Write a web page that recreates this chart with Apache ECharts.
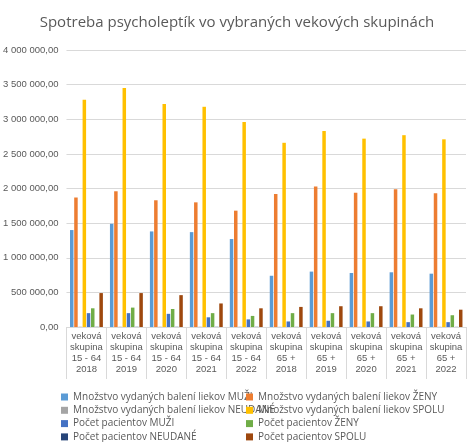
<!DOCTYPE html><html><head><meta charset="utf-8"><script src="https://cdn.jsdelivr.net/npm/echarts@6/dist/echarts.min.js"></script>
<style>html,body{margin:0;background:#fff}#c{width:474px;height:442px}</style></head><body><div id="c"></div><script>
const categories=['veková\nskupina\n15 - 64\n2018','veková\nskupina\n15 - 64\n2019','veková\nskupina\n15 - 64\n2020','veková\nskupina\n15 - 64\n2021','veková\nskupina\n15 - 64\n2022','veková\nskupina\n65 +\n2018','veková\nskupina\n65 +\n2019','veková\nskupina\n65 +\n2020','veková\nskupina\n65 +\n2021','veková\nskupina\n65 +\n2022'];
const names=['Množstvo vydaných balení liekov MUŽI','Množstvo vydaných balení liekov ŽENY','Množstvo vydaných balení liekov NEUDANÉ','Množstvo vydaných balení liekov SPOLU','Počet pacientov MUŽI','Počet pacientov ŽENY','Počet pacientov NEUDANÉ','Počet pacientov SPOLU'];
const balMuzi=[1400000,1490000,1380000,1370000,1270000,740000,800000,780000,790000,770000];
const balZeny=[1870000,1960000,1830000,1800000,1680000,1920000,2030000,1940000,1990000,1930000];
const balNeud=[4000,4000,4000,4000,4000,3000,3000,3000,3000,3000];
const balSpolu=[3280000,3450000,3220000,3180000,2960000,2660000,2830000,2720000,2770000,2710000];
const pacMuzi=[200000,200000,190000,140000,110000,80000,90000,80000,70000,70000];
const pacZeny=[270000,280000,260000,200000,160000,200000,200000,200000,180000,170000];
const pacNeud=[3000,3000,3000,3000,3000,2000,2000,2000,2000,2000];
const pacSpolu=[490000,490000,460000,340000,270000,290000,300000,300000,270000,250000];
const values=[balMuzi,balZeny,balNeud,balSpolu,pacMuzi,pacZeny,pacNeud,pacSpolu];
const colors=['#5B9BD5','#ED7D31','#A5A5A5','#FFC000','#4472C4','#70AD47','#264478','#9E480E'];
const fmt=v=>v.toFixed(2).replace('.',',').replace(/\B(?=(\d{3})+(?!\d))/g,' ');
const legends=names.map((n,i)=>({left:i%2?241:56,top:387+Math.floor(i/2)*13.3,data:[n],itemWidth:7,itemHeight:7,icon:'rect',textStyle:{fontSize:10,color:'#595959',fontFamily:'Open Sans'}}));
const ch=echarts.init(document.getElementById('c'));
ch.setOption({color:colors,animation:false,
title:{text:'Spotreba psycholeptík vo vybraných vekových skupinách',left:'center',top:10,textStyle:{fontSize:15,fontWeight:'normal',color:'#595959',fontFamily:'Open Sans'}},
legend:legends,
grid:{left:66,right:8,top:50,bottom:115},
xAxis:{type:'category',data:categories,axisTick:{show:true,length:52,lineStyle:{color:'#d9d9d9'}},axisLine:{lineStyle:{color:'#d9d9d9'}},axisLabel:{fontSize:9.5,color:'#595959',lineHeight:11,margin:4,interval:0}},
yAxis:{type:'value',min:0,max:4000000,interval:500000,axisLabel:{fontSize:9.5,color:'#595959',formatter:fmt},splitLine:{lineStyle:{color:'#d9d9d9'}}},
series:names.map((n,i)=>({name:n,type:'bar',data:values[i],barWidth:3.5,barGap:'20%'}))});
</script></body></html>
